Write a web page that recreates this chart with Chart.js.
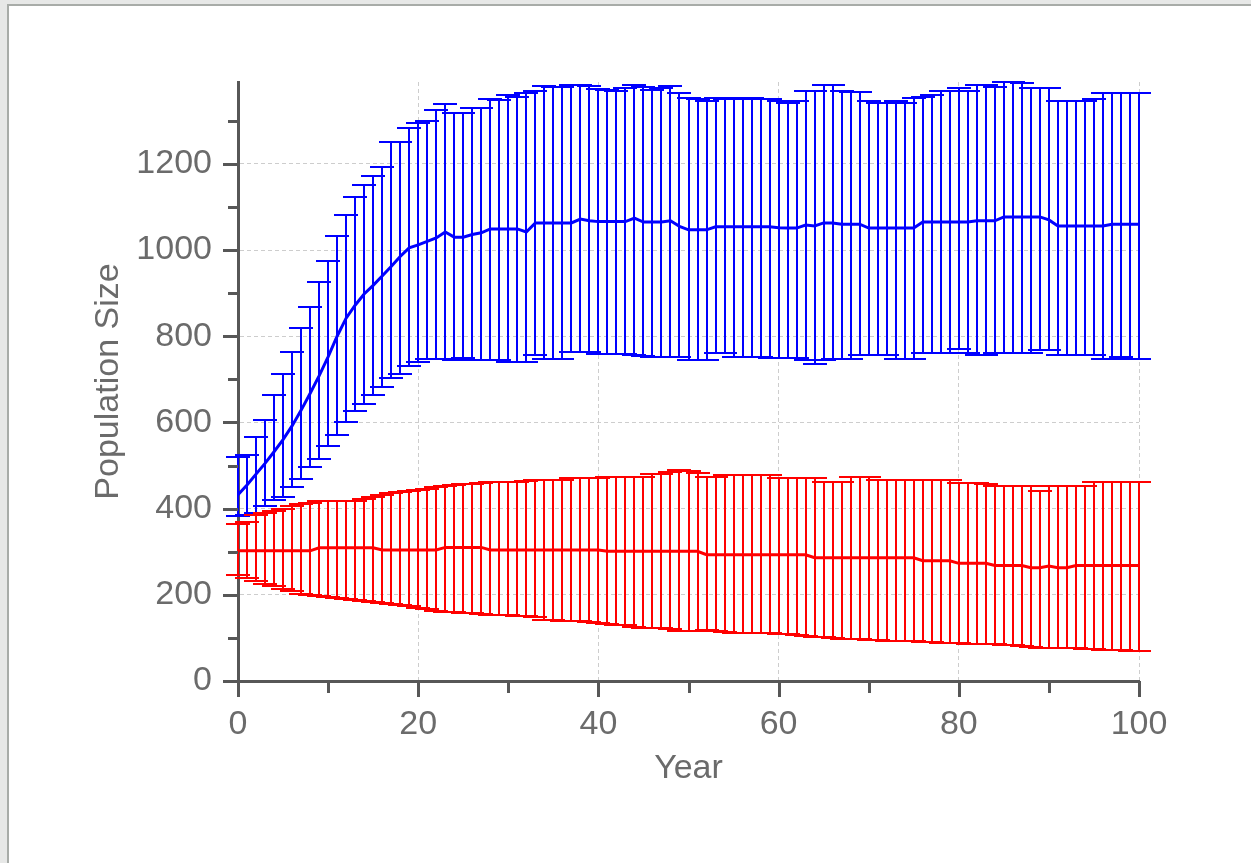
<!DOCTYPE html>
<html lang="en">
<head>
<meta charset="utf-8">
<title>Population Size</title>
<script src="https://cdn.jsdelivr.net/npm/chart.js@4.4.1/dist/chart.umd.min.js"></script>
<style>
    html, body { margin: 0; padding: 0; }
    body { width: 1251px; height: 863px; background: #e7e8e7; position: relative; overflow: hidden; }
    #frame {
        position: absolute; left: 7px; top: 4px; right: 0; bottom: 0;
        background: #fff; border-left: 2px solid #a8aca8; border-top: 2px solid #a8aca8;
    }
    #chart { position: absolute; left: 0; top: 0; }
</style>
</head>
<body>
<div id="frame"></div>
<canvas id="chart" width="1251" height="863"></canvas>
<script>
// --- Data ---

const years = Array.from({ length: 101 }, (_, i) => i);

const blueMean = [
    432, 455, 480, 505, 532, 560, 592, 628, 667, 708,
    752, 800, 842, 872, 898, 918, 940, 962, 985, 1005,
    1012, 1020, 1028, 1042, 1030, 1030, 1036, 1040, 1049, 1049,
    1049, 1049, 1042, 1063, 1063, 1063, 1063, 1063, 1072, 1068,
    1066, 1066, 1066, 1066, 1074, 1065, 1065, 1065, 1068, 1055,
    1047, 1047, 1047, 1054, 1054, 1054, 1054, 1054, 1054, 1054,
    1052, 1051, 1051, 1058, 1056, 1063, 1063, 1060, 1060, 1060,
    1051, 1051, 1051, 1051, 1051, 1051, 1065, 1065, 1065, 1065,
    1065, 1065, 1068, 1068, 1068, 1077, 1077, 1077, 1077, 1077,
    1070, 1056, 1056, 1056, 1056, 1056, 1056, 1060, 1060, 1060,
    1060
];
const blueUpper = [
    519, 525, 566, 605, 663, 712, 763, 819, 868, 926,
    975, 1033, 1081, 1123, 1152, 1172, 1193, 1251, 1251, 1284,
    1296, 1300, 1326, 1339, 1318, 1318, 1330, 1330, 1350, 1349,
    1360, 1355, 1365, 1370, 1380, 1378, 1378, 1382, 1384, 1380,
    1373, 1372, 1370, 1375, 1384, 1378, 1372, 1376, 1380, 1364,
    1353, 1350, 1345, 1352, 1350, 1352, 1350, 1352, 1351, 1350,
    1345, 1341, 1345, 1370, 1370, 1382, 1382, 1370, 1366, 1366,
    1345, 1341, 1341, 1345, 1341, 1353, 1355, 1360, 1370, 1370,
    1376, 1370, 1382, 1382, 1378, 1390, 1390, 1388, 1376, 1376,
    1376, 1345, 1345, 1347, 1345, 1350, 1364, 1364, 1364, 1364,
    1364
];
const blueLower = [
    384, 386, 391, 407, 419, 428, 450, 469, 496, 515,
    545, 571, 601, 626, 642, 663, 682, 703, 713, 730,
    740, 748, 748, 748, 745, 750, 746, 746, 746, 746,
    740, 740, 740, 756, 748, 748, 748, 763, 763, 763,
    758, 758, 758, 758, 757, 755, 753, 753, 753, 753,
    746, 746, 746, 760, 760, 753, 753, 753, 753, 750,
    750, 750, 750, 744, 736, 744, 748, 748, 748, 756,
    756, 756, 756, 748, 748, 748, 760, 760, 760, 760,
    771, 760, 756, 756, 760, 760, 760, 760, 760, 767,
    767, 756, 756, 756, 756, 756, 748, 748, 752, 748,
    748
];

const redMean = [
    302, 302, 302, 302, 302, 302, 302, 302, 302, 309,
    309, 309, 309, 309, 309, 309, 304, 304, 304, 304,
    304, 304, 304, 310, 310, 310, 310, 310, 304, 304,
    304, 304, 304, 304, 304, 304, 304, 304, 304, 304,
    304, 301, 301, 301, 301, 301, 301, 301, 301, 301,
    301, 301, 293, 293, 293, 293, 293, 293, 293, 293,
    293, 293, 293, 293, 286, 286, 286, 286, 286, 286,
    286, 286, 286, 286, 286, 286, 279, 279, 279, 279,
    273, 273, 273, 273, 268, 268, 268, 268, 263, 263,
    267, 263, 263, 268, 268, 268, 268, 268, 268, 268,
    268
];
const redUpper = [
    364, 368, 385, 391, 395, 400, 405, 410, 413, 417,
    417, 417, 417, 417, 422, 428, 432, 436, 438, 442,
    444, 446, 450, 453, 455, 457, 457, 459, 461, 461,
    461, 461, 463, 467, 467, 467, 467, 470, 470, 470,
    470, 473, 473, 473, 473, 473, 481, 481, 485, 489,
    487, 482, 473, 473, 477, 477, 477, 477, 477, 477,
    471, 471, 471, 471, 471, 461, 461, 461, 473, 473,
    473, 467, 467, 467, 467, 467, 467, 467, 467, 467,
    459, 459, 459, 457, 453, 453, 453, 453, 453, 440,
    453, 453, 453, 453, 453, 461, 461, 461, 461, 461,
    461
];
const redLower = [
    246, 240, 233, 224, 220, 214, 208, 203, 199, 197,
    195, 193, 191, 189, 186, 183, 181, 179, 177, 174,
    170, 166, 163, 160, 159, 158, 157, 156, 154, 153,
    152, 151, 150, 148, 142, 141, 140, 140, 139, 137,
    134, 132, 131, 129, 126, 124, 123, 122, 120, 117,
    116, 116, 118, 117, 114, 112, 112, 112, 111, 111,
    110, 108, 106, 104, 102, 101, 100, 98, 97, 97,
    96, 94, 93, 93, 93, 92, 91, 90, 89, 89,
    88, 87, 86, 85, 85, 84, 83, 81, 78, 77,
    77, 77, 76, 76, 75, 74, 73, 72, 71, 70,
    70
];

const xMajorTicks = [0, 20, 40, 60, 80, 100];
const xMinorTicks = [10, 30, 50, 70, 90];
const yMajorTicks = [0, 200, 400, 600, 800, 1000, 1200];
const yMinorTicks = [100, 300, 500, 700, 900, 1100, 1300];
const yMax = 1390;

// --- Style ---

const AXIS_COLOR = '#575757';
const TEXT_COLOR = '#6b6b6b';
const GRID_COLOR = '#cdcdcd';
const CAP_HALF = 12;

function points(values) {
    return values.map((v, i) => ({ x: years[i], y: v }));
}

function tickList(major, minor) {
    return major.concat(minor).sort((a, b) => a - b).map(v => ({ value: v }));
}

// Error bars: vertical whisker + caps, drawn under the mean lines.
const errorBarPlugin = {
    id: 'errorBars',
    beforeDatasetsDraw(chart) {
        const { ctx, scales: { x, y } } = chart;
        chart.data.datasets.forEach(ds => {
            const { lower, upper } = ds.errorBars;
            ctx.save();
            ctx.strokeStyle = ds.borderColor;
            ctx.lineWidth = 2;
            ctx.beginPath();
            years.forEach((yr, i) => {
                const px = Math.round(x.getPixelForValue(yr));
                const lo = Math.round(y.getPixelForValue(lower[i]));
                const hi = Math.round(y.getPixelForValue(upper[i]));
                ctx.moveTo(px, lo);
                ctx.lineTo(px, hi);
                ctx.moveTo(px - CAP_HALF, lo);
                ctx.lineTo(px + CAP_HALF, lo);
                ctx.moveTo(px - CAP_HALF, hi);
                ctx.lineTo(px + CAP_HALF, hi);
            });
            ctx.stroke();
            ctx.restore();
        });
    }
};

// Outside tick marks, long for labelled ticks and short for the others.
const axisTickPlugin = {
    id: 'axisTicks',
    afterDraw(chart) {
        const { ctx, chartArea: area, scales: { x, y } } = chart;
        ctx.save();
        ctx.strokeStyle = AXIS_COLOR;
        ctx.lineWidth = 3;
        ctx.beginPath();
        x.ticks.forEach(t => {
            const len = xMajorTicks.includes(t.value) ? 16 : 12;
            const px = Math.round(x.getPixelForValue(t.value)) + 0.5;
            ctx.moveTo(px, area.bottom);
            ctx.lineTo(px, area.bottom + len);
        });
        y.ticks.forEach(t => {
            const len = yMajorTicks.includes(t.value) ? 15 : 10;
            const py = Math.round(y.getPixelForValue(t.value)) + 0.5;
            ctx.moveTo(area.left - len, py);
            ctx.lineTo(area.left, py);
        });
        ctx.stroke();
        ctx.restore();
    }
};

Chart.defaults.font.family = "'Liberation Sans', Arial, sans-serif";
Chart.defaults.font.size = 34;
Chart.defaults.color = TEXT_COLOR;

new Chart(document.getElementById('chart'), {
    type: 'line',
    data: {
        datasets: [
            {
                label: 'Blue',
                data: points(blueMean),
                borderColor: '#0000ff',
                borderWidth: 3,
                pointRadius: 0,
                tension: 0,
                clip: false,
                errorBars: { lower: blueLower, upper: blueUpper }
            },
            {
                label: 'Red',
                data: points(redMean),
                borderColor: '#ff0000',
                borderWidth: 3,
                pointRadius: 0,
                tension: 0,
                clip: false,
                errorBars: { lower: redLower, upper: redUpper }
            }
        ]
    },
    options: {
        responsive: false,
        animation: false,
        devicePixelRatio: 1,
        layout: { padding: { left: 0, top: 82, right: 112, bottom: 0 } },
        plugins: {
            legend: { display: false },
            tooltip: { enabled: false }
        },
        scales: {
            x: {
                type: 'linear',
                min: 0,
                max: 100,
                afterBuildTicks: scale => { scale.ticks = tickList(xMajorTicks, xMinorTicks); },
                afterFit: scale => { scale.height = 182; },
                ticks: {
                    autoSkip: false,
                    maxRotation: 0,
                    padding: 23,
                    color: TEXT_COLOR,
                    callback: v => (xMajorTicks.includes(v) ? String(v) : '')
                },
                grid: {
                    drawTicks: false,
                    lineWidth: 1,
                    color: c => (c.tick && c.tick.value !== 0 && xMajorTicks.includes(c.tick.value)) ? GRID_COLOR : 'rgba(0,0,0,0)'
                },
                border: { display: true, color: AXIS_COLOR, width: 3, dash: [4, 3] },
                title: { display: true, text: 'Year', color: TEXT_COLOR, padding: { top: 0, bottom: 74 } }
            },
            y: {
                type: 'linear',
                min: 0,
                max: yMax,
                afterBuildTicks: scale => { scale.ticks = tickList(yMajorTicks, yMinorTicks); },
                afterFit: scale => { scale.width = 238; },
                ticks: {
                    autoSkip: false,
                    padding: 26,
                    color: TEXT_COLOR,
                    callback: v => (yMajorTicks.includes(v) ? String(v) : '')
                },
                grid: {
                    drawTicks: false,
                    lineWidth: 1,
                    color: c => (c.tick && c.tick.value !== 0 && yMajorTicks.includes(c.tick.value)) ? GRID_COLOR : 'rgba(0,0,0,0)'
                },
                border: { display: true, color: AXIS_COLOR, width: 3, dash: [4, 3] },
                title: { display: true, text: 'Population Size', color: TEXT_COLOR, padding: { top: 88, bottom: 0 } }
            }
        }
    },
    plugins: [errorBarPlugin, axisTickPlugin]
});
</script>
</body>
</html>
